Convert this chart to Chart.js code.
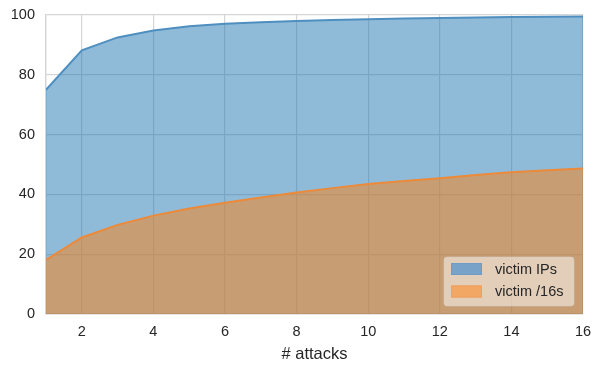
<!DOCTYPE html>
<html>
<head>
<meta charset="utf-8">
<script src="https://cdn.jsdelivr.net/npm/chart.js@4.4.0/dist/chart.umd.min.js"></script>
<style>
  html, body { margin: 0; padding: 0; background: #fff; }
  #wrap { width: 600px; height: 369px; }
</style>
</head>
<body>
<div id="wrap"><canvas id="mainChart" width="600" height="369"></canvas></div>
<script>
// data
const attacks = [1, 2, 3, 4, 5, 6, 7, 8, 9, 10, 11, 12, 13, 14, 15, 16];
const victimIPs = [75.0, 88.2, 92.5, 94.8, 96.2, 97.1, 97.6, 98.0, 98.3, 98.6, 98.8, 99.0, 99.2, 99.3, 99.4, 99.5];
const victim16s = [18.1, 25.6, 29.8, 32.9, 35.3, 37.2, 39.0, 40.6, 42.1, 43.5, 44.5, 45.4, 46.5, 47.4, 48.1, 48.7];
const xTicks = [2, 4, 6, 8, 10, 12, 14, 16];
const yTicks = [0, 20, 40, 60, 80, 100];

const FONT = "'Liberation Sans', Arial, sans-serif";
const TEXT = '#262626';
const GRID = '#d5d5d5';

function toPoints(vals) {
  return attacks.map((x, i) => ({ x: x, y: vals[i] }));
}

// legend drawn inside the plot, lower right (like matplotlib loc='lower right')
const boxLegend = {
  id: 'boxLegend',
  afterDraw(chart) {
    const ctx = chart.ctx;
    const a = chart.chartArea;
    const w = 130, h = 49;
    const x0 = a.right - 9 - w, y0 = a.bottom - 8 - h;
    ctx.save();
    ctx.beginPath();
    ctx.roundRect(x0, y0, w, h, 3);
    ctx.fillStyle = 'rgba(255,255,255,0.5)';
    ctx.fill();
    ctx.strokeStyle = 'rgba(210,210,210,0.5)';
    ctx.lineWidth = 1;
    ctx.stroke();

    const items = [
      { label: 'victim IPs', fill: '#78a2c8', edge: '#6e9cc4' },
      { label: 'victim /16s', fill: '#f3a765', edge: '#eea060' }
    ];
    ctx.font = '14.5px ' + FONT;
    ctx.textBaseline = 'middle';
    items.forEach((it, i) => {
      const py = y0 + 6 + i * 22.5;
      ctx.fillStyle = it.fill;
      ctx.fillRect(x0 + 7, py, 31, 12);
      ctx.strokeStyle = it.edge;
      ctx.strokeRect(x0 + 7.5, py + 0.5, 30, 11);
      ctx.fillStyle = TEXT;
      ctx.fillText(it.label, x0 + 51, py + 6.5);
    });
    ctx.restore();
  }
};

new Chart(document.getElementById('mainChart').getContext('2d'), {
  type: 'line',
  data: {
    datasets: [
      {
        label: 'victim IPs',
        data: toPoints(victimIPs),
        borderColor: '#4f8fc0',
        backgroundColor: 'rgba(31, 119, 180, 0.5)',
        borderWidth: 2,
        pointRadius: 0,
        tension: 0,
        fill: 'origin',
        order: 2
      },
      {
        label: 'victim /16s',
        data: toPoints(victim16s),
        borderColor: '#ec8a3a',
        backgroundColor: 'rgba(255, 127, 14, 0.5)',
        borderWidth: 2,
        pointRadius: 0,
        tension: 0,
        fill: 'origin',
        order: 1
      }
    ]
  },
  options: {
    responsive: false,
    animation: false,
    layout: { padding: { top: 15, right: 17, left: 0, bottom: 0 } },
    plugins: { legend: { display: false }, tooltip: { enabled: false } },
    scales: {
      x: {
        type: 'linear',
        min: 1,
        max: 16,
        afterBuildTicks: s => { s.ticks = xTicks.map(v => ({ value: v })); },
        afterFit: s => { s.height = 55; s.paddingLeft = 0; s.paddingRight = 0; },
        grid: { color: GRID, lineWidth: 1.2, drawTicks: false },
        border: { color: GRID, width: 1.5 },
        ticks: { color: TEXT, font: { family: FONT, size: 14.5 }, padding: 9, maxRotation: 0 },
        title: {
          display: true,
          text: '# attacks',
          color: TEXT,
          font: { family: FONT, size: 16.5 },
          padding: { top: 0, bottom: 5 }
        }
      },
      y: {
        min: 0,
        max: 100,
        afterBuildTicks: s => { s.ticks = yTicks.map(v => ({ value: v })); },
        afterFit: s => { s.width = 46; s.paddingTop = 0; s.paddingBottom = 0; },
        grid: { color: GRID, lineWidth: 1.2, drawTicks: false },
        border: { color: GRID, width: 1.5 },
        ticks: { color: TEXT, font: { family: FONT, size: 14.5 }, padding: 11 }
      }
    }
  },
  plugins: [boxLegend]
});
</script>
</body>
</html>
